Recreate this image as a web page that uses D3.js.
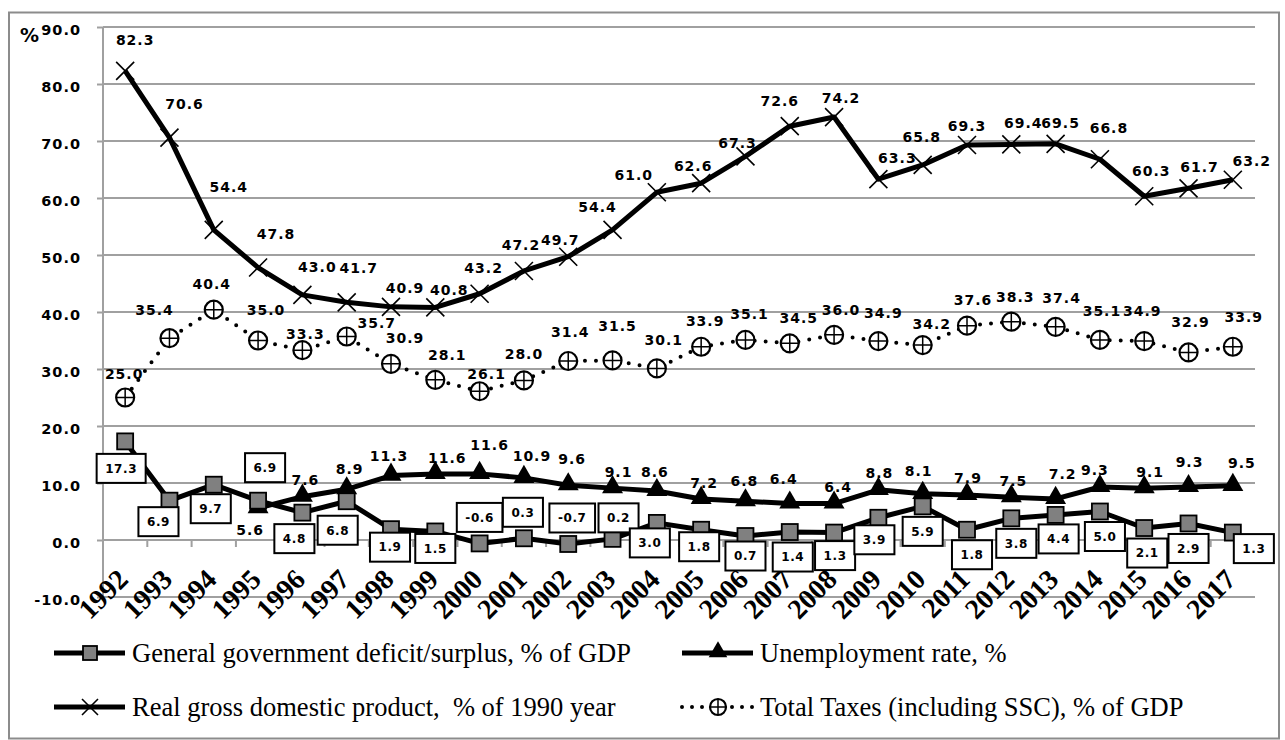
<!DOCTYPE html>
<html><head><meta charset="utf-8">
<script src="https://cdn.jsdelivr.net/npm/d3@7/dist/d3.min.js"></script>
<style>body{margin:0;background:#fff}svg{display:block}</style>
</head><body>
<svg id="chart" width="1285" height="740"></svg>
<script>
// ---------- DATA ----------
const years = ["1992","1993","1994","1995","1996","1997","1998","1999","2000","2001","2002","2003","2004","2005","2006","2007","2008","2009","2010","2011","2012","2013","2014","2015","2016","2017"];
const deficit = [17.3,6.9,9.7,6.9,4.8,6.8,1.9,1.5,-0.6,0.3,-0.7,0.2,3.0,1.8,0.7,1.4,1.3,3.9,5.9,1.8,3.8,4.4,5.0,2.1,2.9,1.3];
const unemployment = [null,null,null,5.6,7.6,8.9,11.3,11.6,11.6,10.9,9.6,9.1,8.6,7.2,6.8,6.4,6.4,8.8,8.1,7.9,7.5,7.2,9.3,9.1,9.3,9.5];
const gdp = [82.3,70.6,54.4,47.8,43.0,41.7,40.9,40.8,43.2,47.2,49.7,54.4,61.0,62.6,67.3,72.6,74.2,63.3,65.8,69.3,69.4,69.5,66.8,60.3,61.7,63.2];
const taxes = [25.0,35.4,40.4,35.0,33.3,35.7,30.9,28.1,26.1,28.0,31.4,31.5,30.1,33.9,35.1,34.5,36.0,34.9,34.2,37.6,38.3,37.4,35.1,34.9,32.9,33.9];
const yTicks = [-10,0,10,20,30,40,50,60,70,80,90];
const seriesNames = ["General government deficit/surplus, % of GDP","Unemployment rate, %","Real gross domestic product,  % of 1990 year","Total Taxes (including SSC), % of GDP"];

// ---------- LABEL PLACEMENT (offsets from point, px) ----------
const deficitOff = [[-4,27],[-11,21],[-3,24],[7,-33],[-8,26],[-9,29],[-1,18],[0,17],[0,-26],[-1,-26],[4,-26],[6,-21],[-7,20],[-2,17],[0,20],[3,25],[1,23],[-4,22],[0,25],[5,25],[5,25],[3,24],[5,25],[3,25],[0,25],[21,16]];
const unempOff = [null,null,null,[-8,22],[3,-17],[3,-20],[-2,-20],[12,-16],[10,-29],[8,-22],[4,-26],[6,-16],[-2,-19],[3,-16],[-1,-20],[-6,-25],[4,-17],[1,-17],[-4,-23],[1,-17],[2,-16],[7,-25],[-5,-17],[6,-16],[1,-25],[9,-23]];
const gdpOff = [[10,-31],[15,-34],[15,-43],[18,-34],[15,-28],[12,-34],[14,-19],[14,-17],[4,-26],[-3,-26],[-8,-17],[-15,-23],[-23,-17],[-8,-17],[-8,-13],[-10,-25],[7,-19],[19,-21],[-1,-28],[0,-19],[12,-21],[5,-21],[9,-31],[7,-25],[11,-21],[19,-19]];
const taxOff = [[-1,-24],[-15,-28],[-2,-26],[8,-31],[3,-16],[30,-14],[14,-26],[12,-25],[7,-17],[0,-26],[2,-29],[5,-34],[7,-28],[4,-26],[4,-26],[9,-25],[7,-25],[5,-28],[9,-21],[6,-26],[4,-25],[6,-29],[2,-29],[-2,-30],[2,-31],[11,-30]];

// ---------- SETUP ----------
const svg = d3.select("#chart");
const L = 103, R = 1255, T = 27, B = 597;
const x = d3.scaleBand().domain(years).range([L, R]);
const y = d3.scaleLinear().domain([-10, 90]).range([B, T]);
const cx = d => x(d) + x.bandwidth() / 2;
const GRID = "#a0a0a0";
const numFont = "'DejaVu Sans', Verdana, sans-serif";
const serif = "'Liberation Serif', 'Times New Roman', serif";
const fmt = v => d3.format(".1f")(v).replace("\u2212", "-");

// border
svg.append("rect").attr("x", 9).attr("y", 12.5).attr("width", 1270).attr("height", 726)
  .attr("fill", "none").attr("stroke", "#8c8c8c").attr("stroke-width", 2);

// grid
svg.append("g").selectAll("line").data(yTicks.filter(t => t !== 0)).join("line")
  .attr("x1", L).attr("x2", R).attr("y1", d => y(d)).attr("y2", d => y(d))
  .attr("stroke", GRID).attr("stroke-width", 2);

// y axis
const yAxis = svg.append("g").attr("transform", `translate(${L},0)`)
  .call(d3.axisLeft(y).tickValues(yTicks).tickSize(6).tickPadding(16).tickFormat(fmt));
yAxis.select(".domain").attr("stroke", GRID).attr("stroke-width", 2).attr("d", `M0,${T}V${B}`);
yAxis.selectAll(".tick line").attr("stroke", GRID).attr("stroke-width", 2);
yAxis.selectAll(".tick text").attr("font-family", numFont).attr("font-weight", "bold")
  .attr("font-size", 14.5).attr("letter-spacing", "1px").attr("fill", "#000").attr("dy", "0.5em");

// "%" label
svg.append("text").attr("x", 20).attr("y", 42).text("%")
  .attr("font-family", numFont).attr("font-weight", "bold").attr("font-size", 19);

// x axis at 0
const xAxisG = svg.append("g");
xAxisG.append("line").attr("x1", L).attr("x2", R).attr("y1", y(0)).attr("y2", y(0))
  .attr("stroke", GRID).attr("stroke-width", 2);
xAxisG.selectAll("line.tk").data(years.slice(1).concat(["end"])).join("line").attr("class", "tk")
  .attr("x1", d => d === "end" ? R : x(d)).attr("x2", d => d === "end" ? R : x(d))
  .attr("y1", y(0)).attr("y2", y(0) + 7).attr("stroke", GRID).attr("stroke-width", 2);

// year labels
svg.append("g").selectAll("text").data(years).join("text")
  .attr("transform", d => `translate(${cx(d) + 4.5},${581}) rotate(-45)`)
  .attr("text-anchor", "end").text(d => d)
  .attr("font-family", serif).attr("font-weight", "bold").attr("font-size", 28);

// ---------- LINES ----------
const mk = arr => years.map((yr, i) => ({ yr, v: arr[i], i }));
const dDef = mk(deficit), dUn = mk(unemployment), dGdp = mk(gdp), dTax = mk(taxes);
const line = d3.line().defined(d => d.v != null).x(d => cx(d.yr)).y(d => y(d.v));

const lineStyle = sel => sel.attr("fill", "none").attr("stroke", "#000").attr("stroke-width", 5)
  .attr("stroke-linejoin", "round");
svg.append("path").datum(dDef).attr("d", line).call(lineStyle);
svg.append("path").datum(dUn).attr("d", line).call(lineStyle);
svg.append("path").datum(dGdp).attr("d", line).call(lineStyle);
svg.append("path").datum(dTax).attr("d", line).attr("fill", "none").attr("stroke", "#000")
  .attr("stroke-width", 4).attr("stroke-linecap", "round").attr("stroke-dasharray", "0 11");

// ---------- MARKERS ----------
function xMark(g, s) {
  g.append("path").attr("d", `M${-s},${-s}L${s},${s}M${-s},${s}L${s},${-s}`)
    .attr("stroke", "#000").attr("stroke-width", 1.6).attr("fill", "none");
}
function circMark(g, r) {
  g.append("circle").attr("r", r).attr("fill", "#fff").attr("stroke", "#000").attr("stroke-width", 2.2);
  g.append("path").attr("d", `M${-r},0H${r}M0,${-r}V${r}`).attr("stroke", "#000").attr("stroke-width", 1.5);
}
function sqMark(g, s) {
  g.append("rect").attr("x", -s / 2).attr("y", -s / 2).attr("width", s).attr("height", s)
    .attr("fill", "#808080").attr("stroke", "#000").attr("stroke-width", 1.8);
}
function triMark(g, size) {
  g.append("path").attr("d", d3.symbol(d3.symbolTriangle, size)()).attr("fill", "#000")
    .attr("transform", "translate(0,-1)");
}

svg.append("g").selectAll("g").data(dGdp).join("g")
  .attr("transform", d => `translate(${cx(d.yr)},${y(d.v)})`).each(function () { xMark(d3.select(this), 9); });
svg.append("g").selectAll("g").data(dTax).join("g")
  .attr("transform", d => `translate(${cx(d.yr)},${y(d.v)})`).each(function () { circMark(d3.select(this), 9); });
svg.append("g").selectAll("g").data(dUn.filter(d => d.v != null)).join("g")
  .attr("transform", d => `translate(${cx(d.yr)},${y(d.v)})`).each(function () { triMark(d3.select(this), 190); });
svg.append("g").selectAll("g").data(dDef).join("g")
  .attr("transform", d => `translate(${cx(d.yr)},${y(d.v)})`).each(function () { sqMark(d3.select(this), 16); });

// ---------- DATA LABELS ----------
function plainLabels(data, offs) {
  svg.append("g").selectAll("text").data(data.filter(d => d.v != null)).join("text")
    .attr("x", d => cx(d.yr) + offs[d.i][0]).attr("y", d => y(d.v) + offs[d.i][1])
    .attr("dy", "0.36em").attr("text-anchor", "middle").text(d => fmt(d.v))
    .attr("font-family", numFont).attr("font-weight", "bold").attr("font-size", 14)
    .attr("letter-spacing", "1px");
}
plainLabels(dGdp, gdpOff);
plainLabels(dTax, taxOff);
plainLabels(dUn, unempOff);

const boxG = svg.append("g").selectAll("g").data(dDef).join("g")
  .attr("transform", d => `translate(${cx(d.yr) + deficitOff[d.i][0]},${y(d.v) + deficitOff[d.i][1]})`);
boxG.each(function (d) {
  const g = d3.select(this);
  const r = g.append("rect");
  const t = g.append("text").attr("text-anchor", "middle").attr("dy", "0.36em").text(fmt(d.v))
    .attr("font-family", numFont).attr("font-weight", "bold").attr("font-size", 12)
    .attr("letter-spacing", "0.6px");
  const w = t.node().getComputedTextLength() + 17;
  r.attr("x", -w / 2).attr("y", -14.5).attr("width", w).attr("height", 29)
    .attr("fill", "#fff").attr("stroke", "#000").attr("stroke-width", 2);
});

// ---------- LEGEND ----------
const leg = svg.append("g");
const legRows = [
  { name: seriesNames[0], lx: 54, ly: 653, kind: "sq" },
  { name: seriesNames[1], lx: 682, ly: 653, kind: "tri" },
  { name: seriesNames[2], lx: 54, ly: 707, kind: "x" },
  { name: seriesNames[3], lx: 682, ly: 707, kind: "circ" }
];
legRows.forEach(r => {
  const g = leg.append("g").attr("transform", `translate(${r.lx},${r.ly})`);
  const ln = g.append("line").attr("x1", 0).attr("x2", 71).attr("y1", 0).attr("y2", 0).attr("stroke", "#000");
  if (r.kind === "circ") ln.attr("stroke-width", 4).attr("stroke-linecap", "round").attr("stroke-dasharray", "0 10");
  else ln.attr("stroke-width", 5);
  const m = g.append("g").attr("transform", "translate(36,0)");
  if (r.kind === "sq") sqMark(m, 14);
  if (r.kind === "tri") triMark(m, 150);
  if (r.kind === "x") xMark(m, 8);
  if (r.kind === "circ") circMark(m, 8);
  g.append("text").attr("x", 78).attr("y", 0).attr("dy", "0.33em").text(r.name)
    .attr("font-family", serif).attr("font-size", 26.5)
    .style("white-space", "pre");
});
</script>
</body></html>
